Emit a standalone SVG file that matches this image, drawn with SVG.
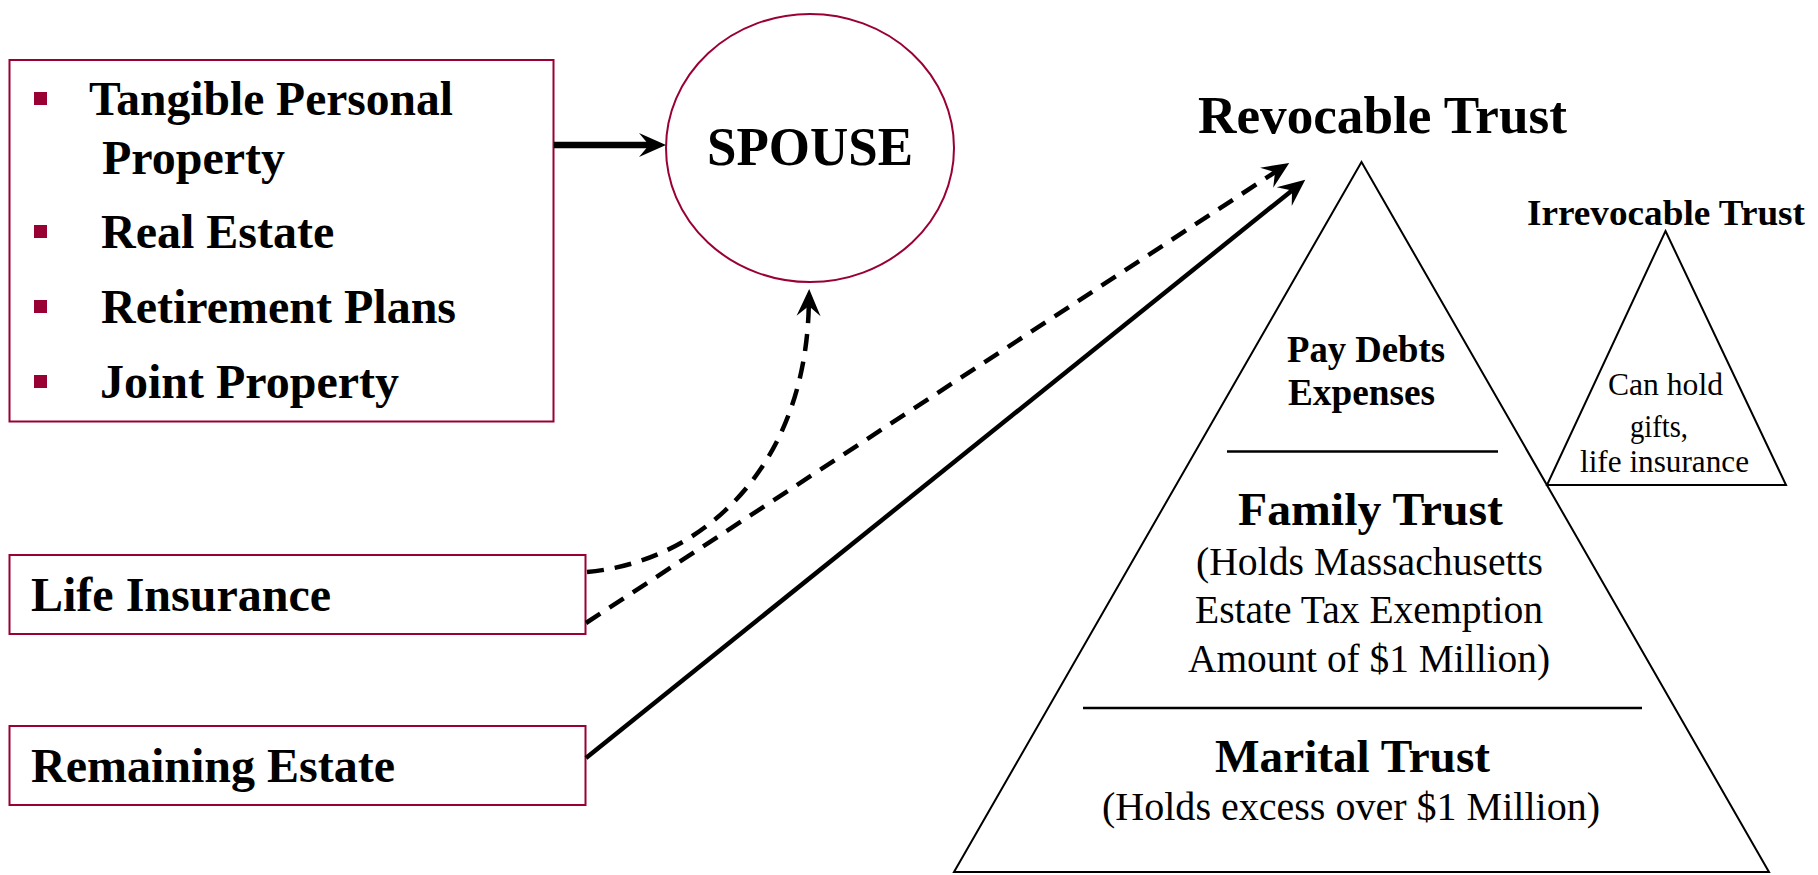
<svg xmlns="http://www.w3.org/2000/svg" width="1818" height="875" viewBox="0 0 1818 875">
<style>
.box{fill:#fff;stroke:#990033;stroke-width:2}
.bul{fill:#990033}
.tb{font-family:"Liberation Serif","Times New Roman",serif;font-weight:bold;fill:#000}
.tr{font-family:"Liberation Serif","Times New Roman",serif;fill:#000}
.tri{fill:none;stroke:#000;stroke-width:2}
.div{stroke:#000;stroke-width:2.5}
.con{fill:none;stroke:#000;stroke-width:4.5}
.dash{stroke-dasharray:17 11}
</style>
<defs>
<marker id="ah" markerUnits="userSpaceOnUse" markerWidth="60" markerHeight="60" refX="0" refY="0" orient="auto" overflow="visible" viewBox="-30 -30 60 60">
<path d="M17,0 L-10,-12 L0,0 L-10,12 Z" fill="#000"/>
</marker>
</defs>
<rect width="1818" height="875" fill="#fff"/>

<g id="assets">
<rect class="box" x="9.5" y="60" width="544" height="361.5"/>
<rect class="bul" x="34" y="92" width="13" height="13"/>
<rect class="bul" x="34" y="225" width="13" height="13"/>
<rect class="bul" x="34" y="300" width="13" height="13"/>
<rect class="bul" x="34" y="375" width="13" height="13"/>
<text class="tb" font-size="48" x="89" y="115" textLength="364" lengthAdjust="spacingAndGlyphs">Tangible Personal</text>
<text class="tb" font-size="48" x="102" y="174">Property</text>
<text class="tb" font-size="48" x="101" y="248">Real Estate</text>
<text class="tb" font-size="48" x="101" y="323">Retirement Plans</text>
<text class="tb" font-size="48" x="100" y="398">Joint Property</text>
</g>

<g id="spouse">
<ellipse cx="810" cy="148" rx="144" ry="134" fill="#fff" stroke="#990033" stroke-width="2"/>
<text class="tb" font-size="54" x="707" y="165" textLength="206" lengthAdjust="spacingAndGlyphs">SPOUSE</text>
</g>

<g id="life-insurance">
<rect class="box" x="9.5" y="555" width="576" height="79"/>
<text class="tb" font-size="48" x="31" y="611">Life Insurance</text>
</g>

<g id="remaining-estate">
<rect class="box" x="9.5" y="726" width="576" height="79"/>
<text class="tb" font-size="48" x="31" y="782">Remaining Estate</text>
</g>

<g id="revocable-trust">
<text class="tb" font-size="52" x="1198" y="133" textLength="369" lengthAdjust="spacingAndGlyphs">Revocable Trust</text>
<polygon class="tri" points="1361.5,162 1769,872 954,872"/>
<line class="div" x1="1227" y1="451.5" x2="1498" y2="451.5"/>
<line class="div" x1="1083" y1="708" x2="1642" y2="708"/>
<text class="tb" font-size="37" x="1287" y="362" textLength="158" lengthAdjust="spacingAndGlyphs">Pay Debts</text>
<text class="tb" font-size="37" x="1288" y="405" textLength="147" lengthAdjust="spacingAndGlyphs">Expenses</text>
<text class="tb" font-size="47" x="1238" y="525" textLength="265" lengthAdjust="spacingAndGlyphs">Family Trust</text>
<text class="tr" font-size="40" x="1196" y="575" textLength="347" lengthAdjust="spacingAndGlyphs">(Holds Massachusetts</text>
<text class="tr" font-size="40" x="1195" y="623" textLength="348" lengthAdjust="spacingAndGlyphs">Estate Tax Exemption</text>
<text class="tr" font-size="40" x="1188" y="672" textLength="362" lengthAdjust="spacingAndGlyphs">Amount of $1 Million)</text>
<text class="tb" font-size="47" x="1215" y="772" textLength="275" lengthAdjust="spacingAndGlyphs">Marital Trust</text>
<text class="tr" font-size="40" x="1102" y="820" textLength="498" lengthAdjust="spacingAndGlyphs">(Holds excess over $1 Million)</text>
</g>

<g id="irrevocable-trust">
<text class="tb" font-size="36" x="1527" y="225" textLength="278" lengthAdjust="spacingAndGlyphs">Irrevocable Trust</text>
<polygon class="tri" points="1665.5,231 1786,485 1547,485"/>
<text class="tr" font-size="31" x="1608" y="395" textLength="115" lengthAdjust="spacingAndGlyphs">Can hold</text>
<text class="tr" font-size="31" x="1630" y="437" textLength="58" lengthAdjust="spacingAndGlyphs">gifts,</text>
<text class="tr" font-size="31" x="1580" y="472" textLength="169" lengthAdjust="spacingAndGlyphs">life insurance</text>
</g>

<g id="connectors">
<path class="con" style="stroke-width:6.5" d="M554,145 L649,145" marker-end="url(#ah)"/>
<path class="con dash" d="M587,572 C700,562 805,470 808.8,306" marker-end="url(#ah)"/>
<path class="con dash" d="M586,623 L1275,172.2" marker-end="url(#ah)"/>
<path class="con" d="M586,758 L1292,190.4" marker-end="url(#ah)"/>
</g>
</svg>
